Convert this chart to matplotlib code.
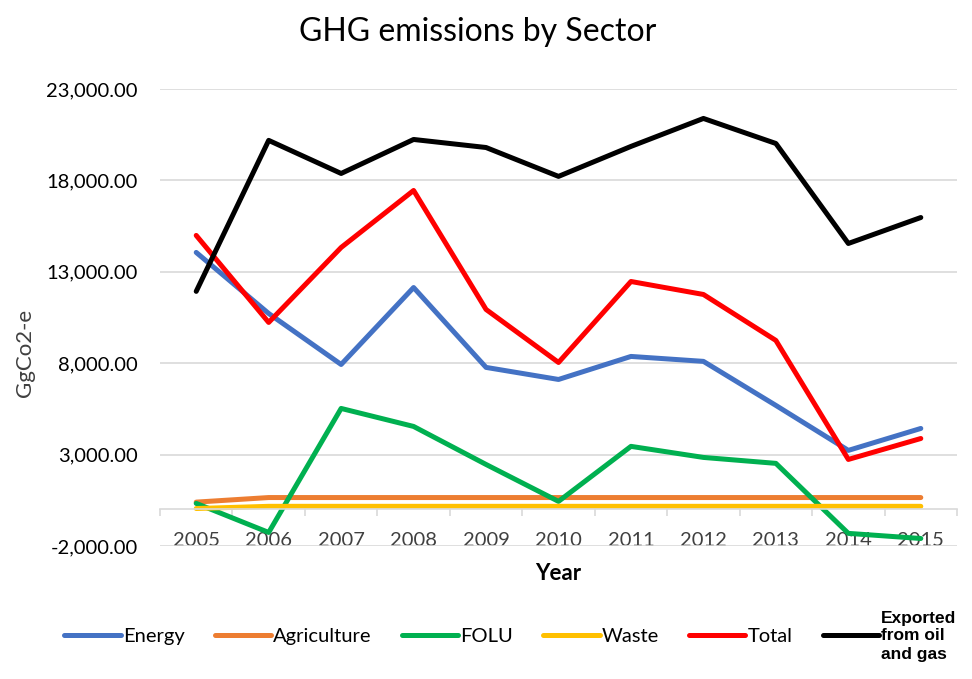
import matplotlib.pyplot as plt
from matplotlib.ticker import FixedLocator, FuncFormatter

years = [2005, 2006, 2007, 2008, 2009, 2010, 2011, 2012, 2013, 2014, 2015]
energy = [14060, 10720, 7930, 12140, 7770, 7110, 8370, 8100, 5690, 3230, 4430]
agriculture = [400, 650, 650, 650, 650, 650, 650, 650, 650, 650, 650]
folu = [330, -1260, 5525, 4540, 2460, 440, 3450, 2845, 2520, -1310, -1590]
waste = [50, 170, 170, 170, 170, 170, 170, 170, 170, 170, 170]
total = [14990, 10230, 14330, 17450, 10940, 8040, 12470, 11760, 9245, 2735, 3880]
exported = [11930, 20190, 18380, 20240, 19800, 18220, 19860, 21390, 20020, 14550, 15970]

series = [
    ("Energy", energy, "#4472C4"),
    ("Agriculture", agriculture, "#ED7D31"),
    ("FOLU", folu, "#00B050"),
    ("Waste", waste, "#FFC000"),
    ("Total", total, "#FF0000"),
    ("Exported\nfrom oil\nand gas", exported, "#000000"),
]

plt.rcParams["font.family"] = ["Lato", "DejaVu Sans"]

fig = plt.figure(figsize=(9.72, 6.79), dpi=100)
ax = fig.add_axes([0.1646, 0.1959, 0.82, 0.673])

for name, values, color in series:
    ax.plot(years, values, color=color, linewidth=3.6, label=name,
            solid_capstyle="round", solid_joinstyle="round")

ax.set_xlim(2004.5, 2015.5)
ax.set_ylim(-2000, 23000)
ax.set_yticks(range(-2000, 23001, 5000))
ax.yaxis.set_major_formatter(FuncFormatter(lambda v, p: f"{v:,.2f}"))
ax.grid(axis="y", color="#d9d9d9", linewidth=1.2)
ax.set_axisbelow(True)

for side in ["top", "right", "left"]:
    ax.spines[side].set_visible(False)
ax.spines["bottom"].set_position(("data", 0))
ax.spines["bottom"].set_color("#d9d9d9")
ax.spines["bottom"].set_linewidth(1.2)

ax.set_xticks(years)
ax.xaxis.set_minor_locator(FixedLocator([y + 0.5 for y in range(2004, 2016)]))
ax.tick_params(axis="x", which="major", length=0, pad=16, labelsize=14.5,
               labelcolor="#404040")
ax.tick_params(axis="x", which="minor", length=5, color="#d9d9d9", width=1.2)
ax.tick_params(axis="y", length=0, pad=16, labelsize=14.5, labelcolor="black")

fig.text(0.026, 1 - 353 / 679, "GgCo2-e", rotation=90, ha="center", va="center",
         fontsize=16, color="#404040")
fig.text(558 / 972, 1 - 573 / 679, "Year", ha="center", va="center",
         fontsize=16, fontweight="bold")
fig.text(478 / 972, 1 - 32 / 679, "GHG emissions by Sector", ha="center",
         va="center", fontsize=23)

leg = ax.legend(loc="center", bbox_to_anchor=(0.525, 1 - 636 / 679), ncol=6,
                frameon=False, fontsize=14.5, handlelength=2.8, handletextpad=0.1,
                columnspacing=1.5, bbox_transform=fig.transFigure)
last = leg.get_texts()[-1]
last.set_fontsize(12.5)
last.set_fontweight("bold")
last.set_family("Liberation Sans")
last.set_linespacing(1.25)

fig.savefig("out.png", dpi=100, facecolor="white")
